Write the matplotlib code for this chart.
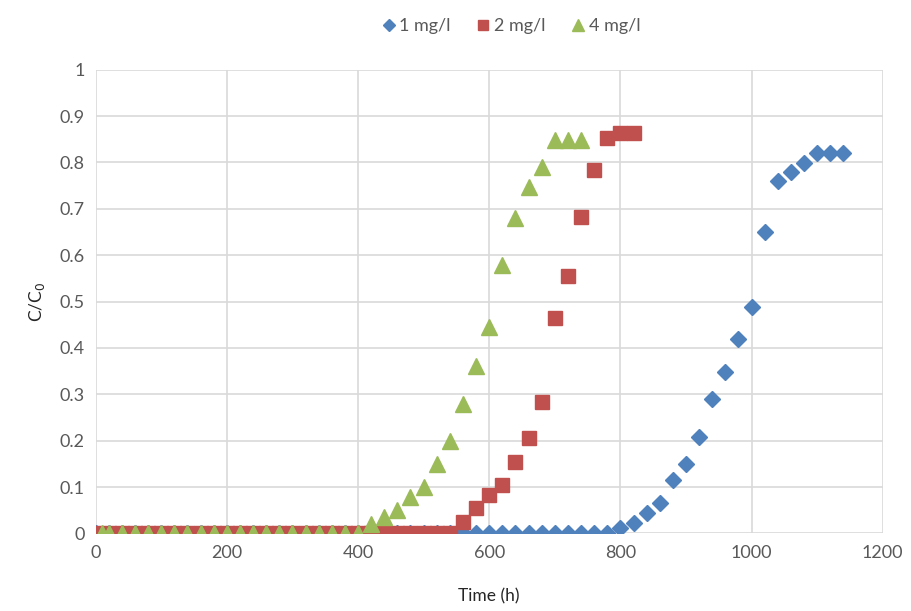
import matplotlib
matplotlib.use("Agg")
import matplotlib.pyplot as plt
from matplotlib.ticker import MultipleLocator

plt.rcParams['font.family'] = ['Lato', 'DejaVu Sans']

# ---- data ----
t1 = list(range(0, 800, 20)) + [800, 820, 840, 860, 880, 900, 920, 940, 960, 980,
                                1000, 1020, 1040, 1060, 1080, 1100, 1120, 1140]
c1 = [0.0] * 40 + [0.011, 0.023, 0.044, 0.066, 0.116, 0.15, 0.207, 0.29, 0.348, 0.42,
                   0.488, 0.651, 0.759, 0.78, 0.798, 0.821, 0.821, 0.82]

t2 = list(range(0, 560, 20)) + [560, 580, 600, 620, 640, 660, 680, 700, 720, 740,
                                760, 780, 800, 820]
c2 = [0.0] * 28 + [0.025, 0.054, 0.083, 0.104, 0.155, 0.205, 0.284, 0.464, 0.554, 0.683,
                   0.784, 0.852, 0.864, 0.864]

t4 = [10] + list(range(20, 420, 20)) + [420, 440, 460, 480, 500, 520, 540, 560, 580, 600,
                                         620, 640, 660, 680, 700, 720, 740]
c4 = [0.0] * 21 + [0.02, 0.035, 0.05, 0.078, 0.1, 0.15, 0.2, 0.28, 0.36, 0.446,
                   0.578, 0.68, 0.747, 0.79, 0.848, 0.848, 0.848]

labels = ['1 mg/l', '2 mg/l', '4 mg/l']
colors = ['#4F81BD', '#C0504D', '#9BBB59']

fig = plt.figure(figsize=(9.11, 6.11), dpi=100)
ax = fig.add_axes([0.105, 0.127, 0.864, 0.759])

ax.plot(t1, c1, linestyle='none', marker='D', ms=7.8, color=colors[0], mec=colors[0], label=labels[0], zorder=3)
ax.plot(t2, c2, linestyle='none', marker='s', ms=10.5, color=colors[1], mec=colors[1], label=labels[1], zorder=4)
ax.plot(t4, c4, linestyle='none', marker='^', ms=11, color=colors[2], mec=colors[2], label=labels[2], zorder=5)

ax.set_xlim(0, 1200)
ax.set_ylim(0, 1)
ax.xaxis.set_major_locator(MultipleLocator(200))
ax.yaxis.set_major_locator(MultipleLocator(0.1))
ax.yaxis.set_major_formatter(matplotlib.ticker.FuncFormatter(lambda v, p: ('%.1f' % v).rstrip('0').rstrip('.') if v != 0 else '0'))

ax.grid(True, color='#D9D9D9', linewidth=1.2)
ax.set_axisbelow(True)
for s in ax.spines.values():
    s.set_visible(False)
ax.tick_params(length=0, labelsize=13, colors='#595959', pad=8)
for lab in ax.get_xticklabels() + ax.get_yticklabels():
    lab.set_clip_on(False)

ax.set_xlabel('Time (h)', fontsize=12.5, color='#262626', labelpad=20)
ax.set_ylabel('C/C$_0$', fontsize=12.5, color='#262626', labelpad=9)

leg = fig.legend(loc='upper center', bbox_to_anchor=(0.56, 0.997), ncol=3, frameon=False,
                 fontsize=13, handletextpad=0.1, columnspacing=1.3, markerscale=0.75,
                 handlelength=1.0)
for t in leg.get_texts():
    t.set_color('#595959')

fig.savefig('out.png', dpi=100)
